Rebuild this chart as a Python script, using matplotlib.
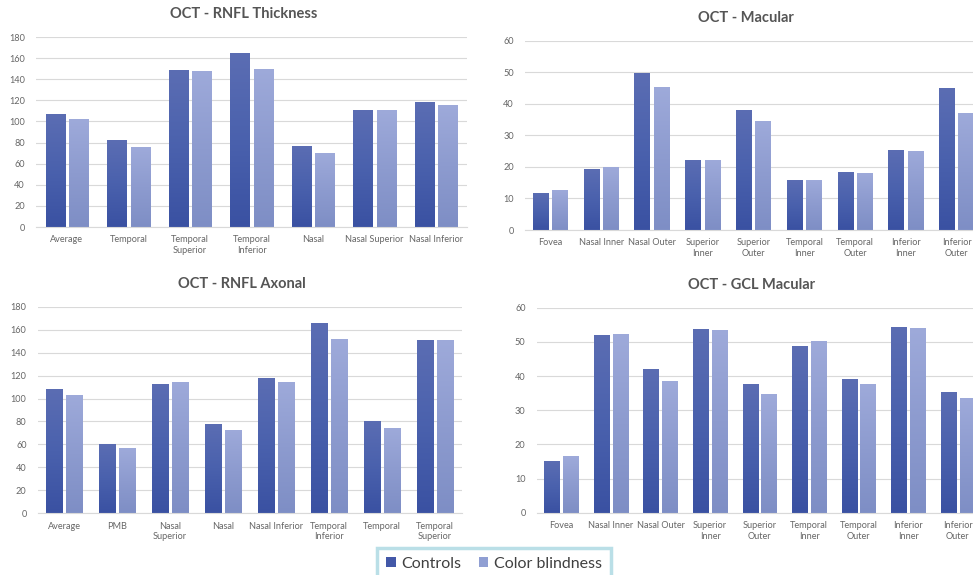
import numpy as np
import matplotlib
matplotlib.use("Agg")
from matplotlib import pyplot as plt
from matplotlib.colors import LinearSegmentedColormap
from matplotlib.patches import Patch

plt.rcParams['font.family'] = ['Lato', 'DejaVu Sans']

# RNFL thickness
thick_cats = ['Average', 'Temporal', 'Temporal\nSuperior', 'Temporal\nInferior',
              'Nasal', 'Nasal Superior', 'Nasal Inferior']
thick_ctrl = [107, 82, 148.5, 164.5, 77, 110.5, 118.5]
thick_cb = [102, 75.5, 148, 150, 70, 110.5, 115.5]

# Macular
mac_cats = ['Fovea', 'Nasal Inner', 'Nasal Outer', 'Superior\nInner', 'Superior\nOuter',
            'Temporal\nInner', 'Temporal\nOuter', 'Inferior\nInner', 'Inferior\nOuter']
mac_ctrl = [11.9, 19.3, 49.7, 22.3, 38.2, 15.9, 18.5, 25.3, 45.0]
mac_cb = [12.8, 20.0, 45.3, 22.3, 34.6, 15.9, 18.1, 25.1, 37.0]

# RNFL axonal
ax_cats = ['Average', 'PMB', 'Nasal\nSuperior', 'Nasal', 'Nasal Inferior',
           'Temporal\nInferior', 'Temporal', 'Temporal\nSuperior']
ax_ctrl = [108, 60.5, 112.5, 78, 118, 165.7, 80.7, 150.7]
ax_cb = [103, 56.6, 114.6, 73, 114.6, 152.2, 74.5, 150.7]

# GCL macular
gcl_cats = mac_cats
gcl_ctrl = [15.1, 51.9, 42.0, 53.9, 37.8, 48.7, 39.2, 54.4, 35.4]
gcl_cb = [16.5, 52.2, 38.7, 53.6, 34.8, 50.2, 37.6, 54.2, 33.6]

series_names = ['Controls', 'Color blindness']
ctrl_grad = LinearSegmentedColormap.from_list('ctrl', ['#3a51a2', '#4a61ad', '#5b6db3'])
cb_grad = LinearSegmentedColormap.from_list('cb', ['#7e8ec5', '#8d9bcf', '#9eaada'])
ctrl_solid = '#4358a8'
cb_solid = '#909fd3'
grid_col = '#d9d9d9'
text_col = '#666666'
title_col = '#555555'

gradient = np.linspace(0, 1, 256).reshape(-1, 1)


def panel(rect, title, cats, ctrl, cb, ymax, ystep, title_y):
    ax = fig.add_axes(rect)
    n = len(cats)
    x = np.arange(n)
    width = 0.31
    bars = [ax.bar(x - 0.19, ctrl, width, color=ctrl_solid, zorder=2),
            ax.bar(x + 0.19, cb, width, color=cb_solid, zorder=2)]
    # vertical gradient fill, like the spreadsheet bars
    for group, cmap in zip(bars, [ctrl_grad, cb_grad]):
        for b in group:
            x0, y0 = b.get_x(), b.get_y()
            img = ax.imshow(gradient, cmap=cmap, origin='lower', aspect='auto',
                            extent=[x0, x0 + b.get_width(), y0, y0 + b.get_height()],
                            zorder=3, interpolation='bilinear')
            img.set_clip_path(b)
    ax.set_xlim(-0.5, n - 0.5)
    ax.set_ylim(0, ymax)
    ax.set_yticks(np.arange(0, ymax + 1, ystep))
    ax.set_xticks(x)
    ax.set_xticklabels(cats, fontsize=6.6, color=text_col, linespacing=1.25)
    ax.tick_params(axis='y', labelsize=6.6, labelcolor=text_col, length=0, pad=8)
    ax.tick_params(axis='x', length=0, pad=6)
    ax.grid(axis='y', color=grid_col, linewidth=0.8, zorder=0)
    ax.set_axisbelow(True)
    for s in ['top', 'right', 'left']:
        ax.spines[s].set_visible(False)
    ax.spines['bottom'].set_color(grid_col)
    ax.spines['bottom'].set_linewidth(0.8)
    ax.spines['bottom'].set_zorder(4)
    cx = rect[0] + rect[2] / 2
    fig.text(cx - 0.008, title_y, title, ha='center', va='center', fontsize=10.5,
             fontweight='bold', color=title_col)
    return ax


fig = plt.figure(figsize=(9.73, 5.75), dpi=100)

panel([0.037, 0.6052, 0.443, 0.3304], 'OCT - RNFL Thickness',
      thick_cats, thick_ctrl, thick_cb, 180, 20, 1 - 14 / 575)
panel([0.5396, 0.600, 0.4697, 0.3287], 'OCT - Macular',
      mac_cats, mac_ctrl, mac_cb, 60, 10, 1 - 18 / 575)
panel([0.0387, 0.1073, 0.4358, 0.3593], 'OCT - RNFL Axonal',
      ax_cats, ax_ctrl, ax_cb, 180, 20, 1 - 284 / 575)
panel([0.5516, 0.1083, 0.4583, 0.3565], 'OCT - GCL Macular',
      gcl_cats, gcl_ctrl, gcl_cb, 60, 10, 1 - 285 / 575)

handles = [Patch(facecolor=ctrl_solid), Patch(facecolor=cb_solid)]
leg = fig.legend(handles, series_names, loc='upper center', bbox_to_anchor=(0.5077, 1 - 548 / 575),
                 borderaxespad=0, ncol=2, fontsize=11.5, frameon=True, fancybox=False,
                 handlelength=0.6, handleheight=0.6, handletextpad=0.35, columnspacing=1.1,
                 borderpad=0.55, labelcolor='#404040')
leg.get_frame().set_edgecolor('#a9d7e2')
leg.get_frame().set_linewidth(2.5)

fig.savefig('out.png', dpi=100)
